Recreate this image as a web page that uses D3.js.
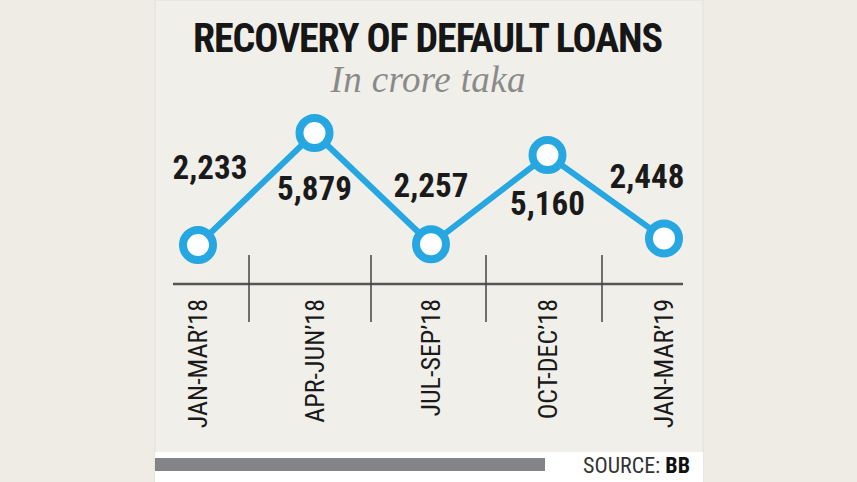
<!DOCTYPE html><html><head><meta charset="utf-8">
<script src="https://cdn.jsdelivr.net/npm/d3@7"></script>
<style>body{margin:0;background:#eeece5}</style></head><body>
<svg id="c" width="857" height="482"></svg>
<script>
const categories=["JAN-MAR'18","APR-JUN'18","JUL-SEP'18","OCT-DEC'18","JAN-MAR'19"];
const values=[2233,5879,2257,5160,2448];
const valueLabels=["2,233","5,879","2,257","5,160","2,448"];
const svg=d3.select("#c");
const F="'Liberation Sans Narrow','Arial Narrow','Roboto Condensed',sans-serif";
svg.append("rect").attr("width",857).attr("height",482).attr("fill","#eeece5");
svg.append("rect").attr("x",155).attr("y",0).attr("width",548).attr("height",482).attr("fill","#f1efe9").attr("stroke","#e2e0d8");
svg.append("rect").attr("x",155).attr("y",452).attr("width",548).attr("height",30).attr("fill","#ffffff");
svg.append("rect").attr("x",155).attr("y",458).attr("width",390).attr("height",13).attr("fill","#838388");
svg.append("text").attr("x",690).attr("y",473).attr("text-anchor","end").attr("font-family",F).attr("font-size",22).attr("fill","#333")
 .html("SOURCE: <tspan font-weight='bold' fill='#111'>BB</tspan>");
svg.append("text").attr("x",428).attr("y",52).attr("text-anchor","middle").attr("font-family",F).attr("font-weight","bold").attr("font-size",40).attr("fill","#161616").attr("textLength",470).text("RECOVERY OF DEFAULT LOANS");
svg.append("text").attr("x",428).attr("y",92).attr("text-anchor","middle").attr("font-family","'Liberation Serif',serif").attr("font-style","italic").attr("font-size",37).attr("fill","#8a8a8a").attr("textLength",195).text("In crore taka");
const x=d3.scalePoint().domain(categories).range([198,664]);
const y=d3.scaleLinear().domain([2233,5879]).range([245,133]);
svg.append("line").attr("x1",173).attr("x2",683).attr("y1",284).attr("y2",284).attr("stroke","#555").attr("stroke-width",2.5);
const seps=[249,371,486,602];
svg.selectAll(".sep").data(seps).enter().append("line").attr("x1",d=>d).attr("x2",d=>d).attr("y1",255).attr("y2",322).attr("stroke","#444").attr("stroke-width",1.5);
svg.selectAll(".cat").data(categories).enter().append("text")
 .attr("transform",d=>`translate(${x(d)+9},299) rotate(-90)`).attr("text-anchor","end")
 .attr("font-family",F).attr("font-size",26).attr("fill","#1a1a1a").text(d=>d.replace("'","’"));
const line=d3.line().x((d,i)=>x(categories[i])).y(d=>y(d));
svg.append("path").datum(values).attr("d",line).attr("fill","none").attr("stroke","#27a7e1").attr("stroke-width",6);
svg.selectAll(".pt").data(values).enter().append("circle").attr("cx",(d,i)=>x(categories[i])).attr("cy",d=>y(d)).attr("r",15).attr("fill","#fff").attr("stroke","#27a7e1").attr("stroke-width",8);
const lab=[[12,-66],[0,67],[0,-47],[0,60],[-17,-50]];
svg.selectAll(".vl").data(values).enter().append("text").attr("x",(d,i)=>x(categories[i])+lab[i][0]).attr("y",(d,i)=>y(d)+lab[i][1])
 .attr("text-anchor","middle").attr("font-family",F).attr("font-weight","bold").attr("font-size",33).attr("fill","#1a1a1a").text((d,i)=>valueLabels[i]);
</script></body></html>
